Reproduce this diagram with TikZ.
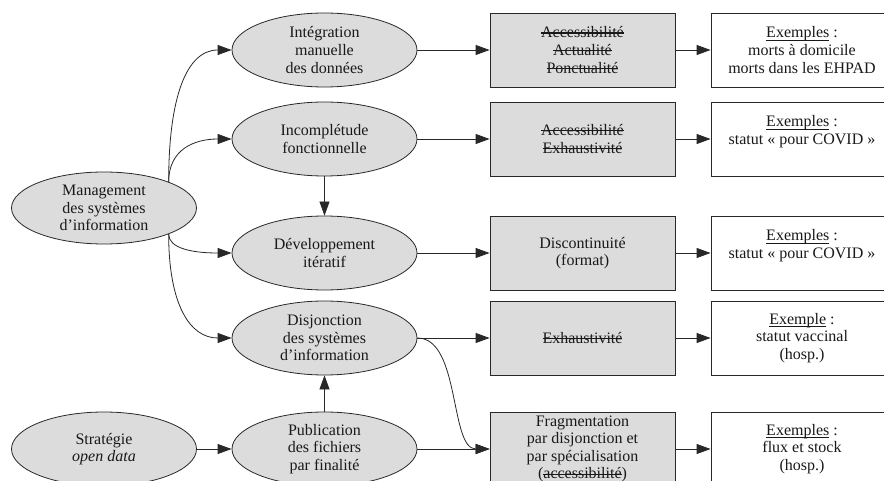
\documentclass[tikz,border=0pt]{standalone}
\usepackage{fontspec}
\setmainfont{Liberation Serif}
\usetikzlibrary{shapes.geometric,arrows.meta}
\definecolor{nodegray}{RGB}{220,220,220}
\definecolor{linec}{RGB}{40,40,40}
\newcommand\mystrike[1]{\setbox0=\hbox{#1}\rlap{\rule[0.27em]{\wd0}{0.07em}}\box0\relax}
\newcommand\myuline[1]{\setbox0=\hbox{#1}\rlap{\rule[-0.17em]{\wd0}{0.06em}}\box0\relax}
\begin{document}
\begin{tikzpicture}[x=1pt,y=-1pt,
 every node/.style={font=\fontsize{16}{17.6}\selectfont, align=center, inner sep=0pt, text=black!90},
 ell/.style={ellipse, draw=linec, fill=nodegray, line width=0.8pt, minimum width=185pt, minimum height=74pt},
 gbox/.style={rectangle, draw=linec, fill=nodegray, line width=0.8pt, minimum width=185pt, minimum height=74pt},
 wbox/.style={rectangle, draw=linec, fill=white, line width=0.8pt, minimum width=182pt, minimum height=74pt},
 arr/.style={draw=linec, line width=0.8pt, -{Triangle[length=14pt,width=10pt]}}]
\useasboundingbox (0,0) rectangle (884,481);
% ellipses
\node[ell, minimum height=72pt] (mgmt) at (104,208) {Management\\des systèmes\\d'information};
\node[ell] (integ) at (324.5,50) {Intégration\\manuelle\\des données};
\node[ell] (incomp) at (324.5,139) {Incomplétude\\fonctionnelle};
\node[ell] (dev) at (324.5,253) {Développement\\itératif};
\node[ell] (disj) at (324.5,338) {Disjonction\\des systèmes\\d'information};
\node[ell] (pub) at (324.5,449) {Publication\\des fichiers\\par finalité};
\node[ell] (strat) at (104,449) {Stratégie\\\textit{open data}};
% gray boxes
\node[gbox] (g1) at (582.5,50) {\mystrike{Accessibilité}\\\mystrike{Actualité}\\\mystrike{Ponctualité}};
\node[gbox] (g2) at (582.5,139) {\mystrike{Accessibilité}\\\mystrike{Exhaustivité}};
\node[gbox] (g3) at (582.5,253) {Discontinuité\\(format)};
\node[gbox] (g4) at (582.5,338) {\mystrike{Exhaustivité}};
\node[gbox] (g5) at (582.5,449) {Fragmentation\\par disjonction et\\par spécialisation\\(\mystrike{accessibilité})};
% white boxes
\node[wbox] (w1) at (802,50) {\myuline{Exemples} :\\morts à domicile\\morts dans les EHPAD};
\node[wbox] (w2) at (802,139) {\myuline{Exemples} :\\statut «~pour COVID~»\\\mbox{}};
\node[wbox] (w3) at (802,253) {\myuline{Exemples} :\\statut «~pour COVID~»\\\mbox{}};
\node[wbox] (w4) at (802,338) {\myuline{Exemple} :\\statut vaccinal\\(hosp.)};
\node[wbox] (w5) at (802,449) {\myuline{Exemples} :\\flux et stock\\(hosp.)};
% curved edges from management
\draw[arr] (mgmt.22) .. controls +(0,-85) and +(-45,0) .. (integ.west);
\draw[arr] (mgmt.22) .. controls +(0,-32) and +(-38,0) .. (incomp.west);
\draw[arr] (mgmt.-22) .. controls +(0,14) and +(-40,0) .. (dev.west);
\draw[arr] (mgmt.-22) .. controls +(0,70) and +(-42,0) .. (disj.west);
% straight edges
\draw[arr] (integ.east) -- (g1.west);
\draw[arr] (incomp.east) -- (g2.west);
\draw[arr] (dev.east) -- (g3.west);
\draw[arr] (disj.east) -- (g4.west);
\draw[arr] (pub.east) -- (g5.west);
\draw[arr] (disj.east) .. controls +(43,0) and +(-40,0) .. (g5.west);
\draw[arr] (incomp.south) -- (dev.north);
\draw[arr] (pub.north) -- (disj.south);
\draw[arr] (strat.east) -- (pub.west);
\draw[arr] (g1.east) -- (w1.west);
\draw[arr] (g2.east) -- (w2.west);
\draw[arr] (g3.east) -- (w3.west);
\draw[arr] (g4.east) -- (w4.west);
\draw[arr] (g5.east) -- (w5.west);
\end{tikzpicture}
\end{document}
